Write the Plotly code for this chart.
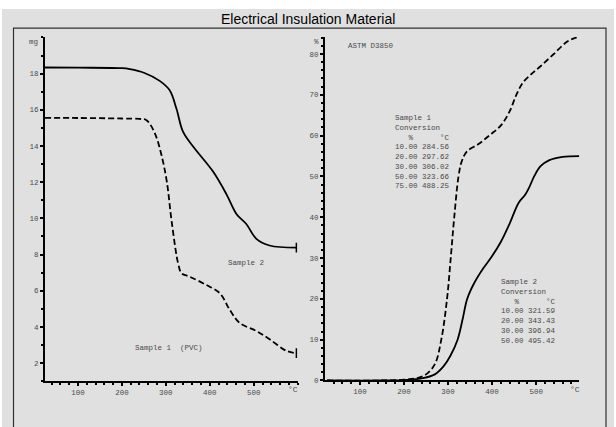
import plotly.graph_objects as go

# ---- data ----
tga_temp_s1 = [25, 100, 200, 240, 256, 275, 290, 302, 313, 328, 336, 354, 392, 423, 445, 468, 506, 536, 574, 597]
tga_mass_s1 = [15.56, 15.55, 15.52, 15.5, 15.43, 14.7, 13.5, 12.06, 9.87, 7.5, 6.96, 6.78, 6.32, 5.86, 4.96, 4.22, 3.77, 3.32, 2.68, 2.55]

tga_temp_s2 = [25, 100, 200, 218, 250, 286, 309, 324, 339, 362, 407, 438, 461, 483, 506, 536, 597]
tga_mass_s2 = [18.34, 18.33, 18.3, 18.25, 18.05, 17.6, 17.07, 16.07, 14.79, 13.97, 12.6, 11.33, 10.23, 9.69, 8.87, 8.5, 8.38]

conv_temp_s1 = [25, 150, 200, 230, 250, 270, 284.56, 297.62, 306.02, 314, 323.66, 331, 342.5, 370, 395.5, 420, 440, 455, 470, 488.25, 510, 540, 570, 590, 598]
conv_pct_s1 = [0, 0, 0.2, 0.6, 1.5, 4, 10, 20, 30, 40, 50, 53.7, 56.1, 58, 60.2, 62.5, 66, 70, 73, 75, 77, 80, 83, 84, 84.2]

conv_temp_s2 = [25, 150, 200, 240, 270, 290, 305, 321.59, 333, 343.43, 360, 380, 396.94, 420, 440, 460, 475, 485, 495.42, 510, 530, 560, 598]
conv_pct_s2 = [0, 0, 0.1, 0.5, 1.5, 3.5, 6, 10, 15, 20, 24, 27.5, 30, 34, 38.5, 43.5, 45.5, 47.5, 50, 52.5, 54, 54.8, 55]

x_ticks = [100, 200, 300, 400, 500]
left_y_ticks = [2, 4, 6, 8, 10, 12, 14, 16, 18]
right_y_ticks = [0, 10, 20, 30, 40, 50, 60, 70, 80]

table_s1 = "Sample 1<br>Conversion<br>   %      °C<br>10.00 284.56<br>20.00 297.62<br>30.00 306.02<br>50.00 323.66<br>75.00 488.25"
table_s2 = "Sample 2<br>Conversion<br>   %      °C<br>10.00 321.59<br>20.00 343.43<br>30.00 396.94<br>50.00 495.42"

W, H = 616, 427
def px(x):
    return x / W
def py(y):
    return 1 - y / H

BG = "#e0e0e0"
MONO = "Liberation Mono, DejaVu Sans Mono, monospace"
TXT = "#4a4a4a"
FS = 7.5

fig = go.Figure()
fig.add_trace(go.Scatter(x=tga_temp_s2, y=tga_mass_s2, mode="lines", line=dict(color="black", width=1.8, shape="spline"),
                         xaxis="x", yaxis="y", showlegend=False))
fig.add_trace(go.Scatter(x=tga_temp_s1, y=tga_mass_s1, mode="lines", line=dict(color="black", width=1.8, dash="6px,3px", shape="spline"),
                         xaxis="x", yaxis="y", showlegend=False))
# end marks
fig.add_trace(go.Scatter(x=[tga_temp_s2[-1], tga_temp_s1[-1]], y=[tga_mass_s2[-1], tga_mass_s1[-1]], mode="markers",
                         marker=dict(symbol="line-ns-open", size=7, color="black", line=dict(color="black", width=1.5)),
                         xaxis="x", yaxis="y", showlegend=False))
fig.add_trace(go.Scatter(x=conv_temp_s1, y=conv_pct_s1, mode="lines", line=dict(color="black", width=1.8, dash="6px,3px", shape="spline"),
                         xaxis="x2", yaxis="y2", showlegend=False))
fig.add_trace(go.Scatter(x=conv_temp_s2, y=conv_pct_s2, mode="lines", line=dict(color="black", width=1.8, shape="spline"),
                         xaxis="x2", yaxis="y2", showlegend=False))

axis_common = dict(showgrid=False, zeroline=False, showline=True, linecolor="black", linewidth=2,
                   ticks="outside", ticklen=3, tickwidth=1.5, tickcolor="black",
                   tickfont=dict(family=MONO, size=FS, color=TXT))

fig.update_layout(
    width=W, height=H,
    margin=dict(l=0, r=0, t=0, b=0),
    paper_bgcolor="white", plot_bgcolor="rgba(0,0,0,0)",
    hovermode=False,
    xaxis=dict(domain=[px(45), px(297.7)], range=[25, 600], anchor="y", tickvals=x_ticks,
               minor=dict(dtick=20, ticks="outside", ticklen=2, tickcolor="black"), **axis_common),
    yaxis=dict(domain=[py(385.7), py(37)], range=[1, 20.05], anchor="x", tickvals=left_y_ticks,
               minor=dict(dtick=1, ticks="outside", ticklen=2, tickcolor="black"), **axis_common),
    xaxis2=dict(domain=[px(325), px(579.3)], range=[20.5, 598], anchor="y2", tickvals=x_ticks,
                minor=dict(dtick=20, ticks="outside", ticklen=2, tickcolor="black"), **axis_common),
    yaxis2=dict(domain=[py(385), py(37.3)], range=[0, 84.2], anchor="x2", tickvals=right_y_ticks,
                minor=dict(dtick=2, ticks="outside", ticklen=2, tickcolor="black"), **axis_common),
    shapes=[
        dict(type="rect", xref="paper", yref="paper", x0=px(2), x1=px(614), y0=py(440), y1=py(9),
             fillcolor=BG, line=dict(width=0), layer="below"),
        dict(type="rect", xref="paper", yref="paper", x0=px(13.5), x1=px(606), y0=py(440), y1=py(28.5),
             fillcolor="rgba(0,0,0,0)", line=dict(color="#303030", width=1.2), layer="below"),
    ],
)

ann = []
ann.append(dict(text="Electrical Insulation Material", xref="paper", yref="paper", x=px(308), y=py(19),
                showarrow=False, font=dict(family="Liberation Sans, Arial", size=14, color="black"),
                xanchor="center", yanchor="middle"))
ann.append(dict(text="mg", xref="paper", yref="paper", x=px(40), y=py(42), showarrow=False,
                font=dict(family=MONO, size=FS, color=TXT), xanchor="right", yanchor="middle"))
ann.append(dict(text="%", xref="paper", yref="paper", x=px(321), y=py(42), showarrow=False,
                font=dict(family=MONO, size=FS, color=TXT), xanchor="right", yanchor="middle"))
ann.append(dict(text="°C", xref="paper", yref="paper", x=px(293), y=py(394), showarrow=False,
                font=dict(family=MONO, size=8, color=TXT), xanchor="center", yanchor="middle"))
ann.append(dict(text="°C", xref="paper", yref="paper", x=px(575), y=py(394), showarrow=False,
                font=dict(family=MONO, size=8, color=TXT), xanchor="center", yanchor="middle"))
ann.append(dict(text="ASTM D3850", xref="paper", yref="paper", x=px(346), y=py(47), showarrow=False,
                font=dict(family=MONO, size=FS, color=TXT), xanchor="left", yanchor="middle"))
ann.append(dict(text="Sample 2", xref="paper", yref="paper", x=px(226), y=py(266), showarrow=False,
                font=dict(family=MONO, size=FS, color=TXT), xanchor="left", yanchor="middle"))
ann.append(dict(text="Sample 1  (PVC)", xref="paper", yref="paper", x=px(133), y=py(352), showarrow=False,
                font=dict(family=MONO, size=FS, color=TXT), xanchor="left", yanchor="middle"))
ann.append(dict(text=table_s1, xref="paper", yref="paper", x=px(393), y=py(113), showarrow=False,
                font=dict(family=MONO, size=FS, color=TXT), xanchor="left", yanchor="top", align="left"))
ann.append(dict(text=table_s2, xref="paper", yref="paper", x=px(499), y=py(279), showarrow=False,
                font=dict(family=MONO, size=FS, color=TXT), xanchor="left", yanchor="top", align="left"))
fig.update_layout(annotations=ann)

fig.write_html("out.html", config={"displayModeBar": False},
               post_script="document.body.style.margin='0';document.body.style.overflow='hidden';")
